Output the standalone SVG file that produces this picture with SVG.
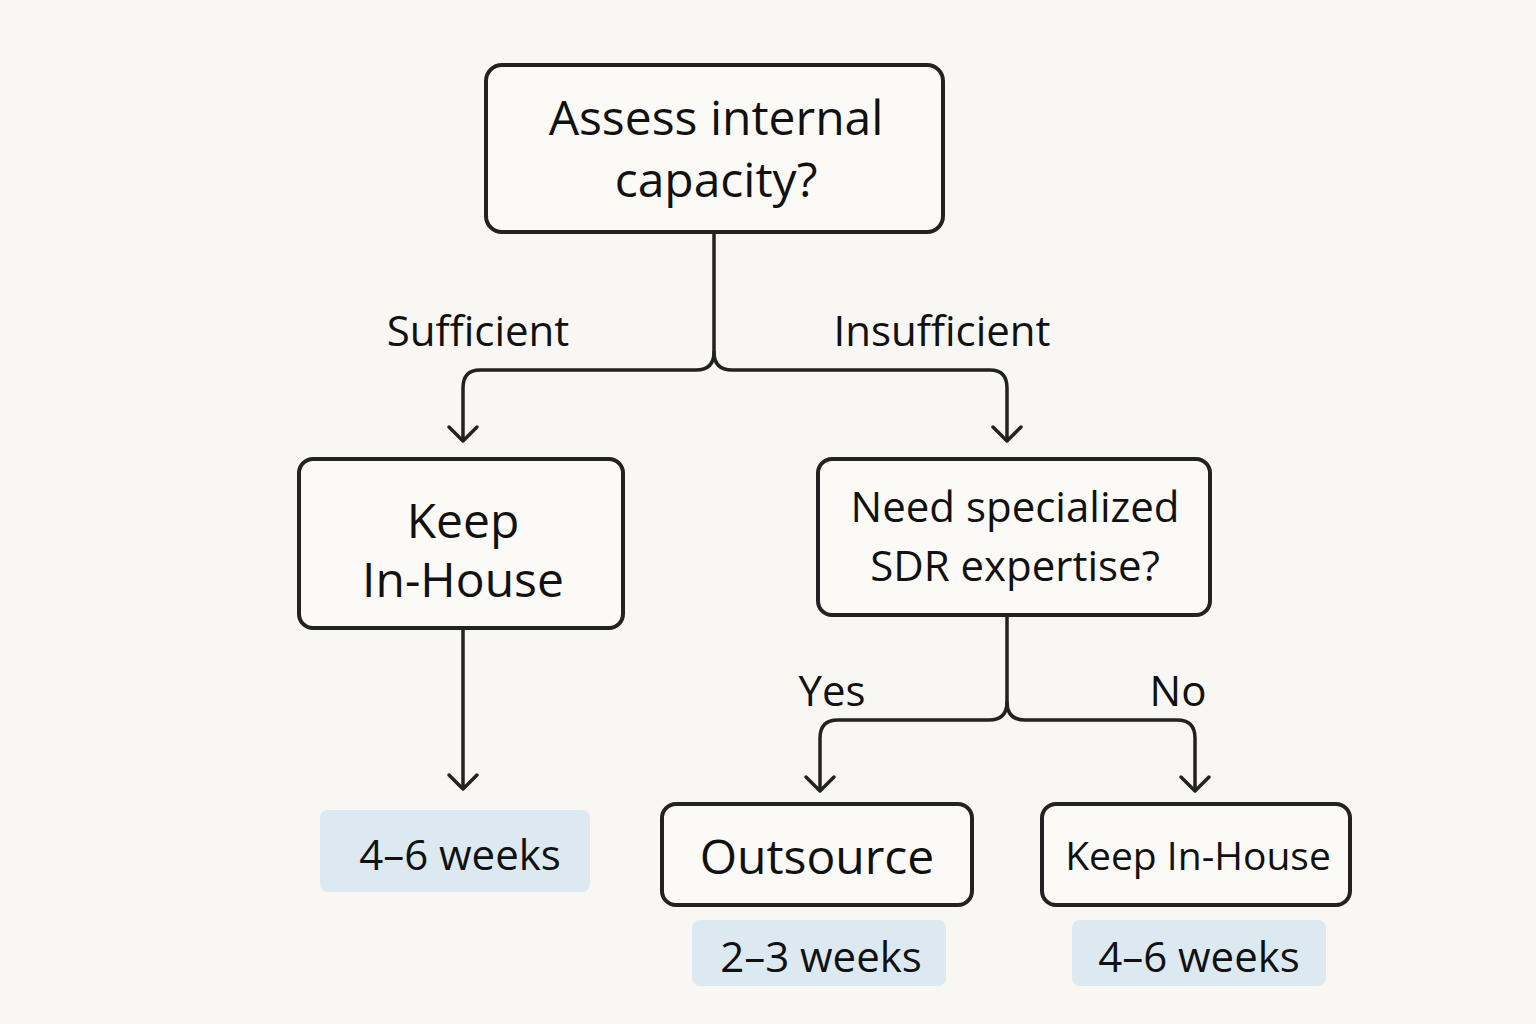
<svg xmlns="http://www.w3.org/2000/svg" width="1536" height="1024" viewBox="0 0 1536 1024">
<defs>
<style>
.box{fill:#fbfaf7;stroke:#222;stroke-width:4}
.tag{fill:#dce9f1}
.ln{fill:none;stroke:#222;stroke-width:3.5;stroke-linecap:round;stroke-linejoin:round}
text{font-family:"Open Sans","DejaVu Sans",sans-serif;fill:#111;text-anchor:middle}
.big{font-size:48px}
.mid{font-size:42px}
</style>
<path id="chev" d="M-14,-14 L0,0 L14,-14" fill="none" stroke="#222" stroke-width="3.5" stroke-linecap="round" stroke-linejoin="round"/>
</defs>
<rect width="1536" height="1024" fill="#f8f7f3"/>
<g id="connectors">
<path class="ln" d="M714,233 V352 Q714,370 696,370 H480 Q463,370 463,388 V440"/>
<path class="ln" d="M714,352 Q714,370 732,370 H990 Q1007,370 1007,388 V440"/>
<path class="ln" d="M463,628 V788"/>
<path class="ln" d="M1007,615 V702 Q1007,720 989,720 H838 Q820,720 820,738 V790"/>
<path class="ln" d="M1007,702 Q1007,720 1025,720 H1177 Q1195,720 1195,738 V790"/>
<use href="#chev" x="463" y="441"/>
<use href="#chev" x="1007" y="441"/>
<use href="#chev" x="463" y="789"/>
<use href="#chev" x="820" y="791"/>
<use href="#chev" x="1195" y="791"/>
<text class="mid" x="478" y="346">Sufficient</text>
<text class="mid" x="942" y="346">Insufficient</text>
<text class="mid" x="832" y="706">Yes</text>
<text class="mid" x="1178" y="706">No</text>
</g>
<g id="assess">
<rect class="box" x="486" y="65" width="457" height="167" rx="16"/>
<text class="big" x="716" y="135">Assess internal</text>
<text class="big" x="716" y="197">capacity?</text>
</g>
<g id="keep1">
<rect class="box" x="299" y="459" width="324" height="169" rx="14"/>
<text class="big" x="463" y="538">Keep</text>
<text class="big" x="463" y="597">In-House</text>
</g>
<g id="weeks1">
<rect class="tag" x="320" y="810" width="270" height="82" rx="8"/>
<text class="mid" x="460" y="870">4–6 weeks</text>
</g>
<g id="need">
<rect class="box" x="818" y="459" width="392" height="156" rx="14"/>
<text class="mid" x="1015" y="522">Need specialized</text>
<text class="mid" x="1015" y="581">SDR expertise?</text>
</g>
<g id="outsource">
<rect class="box" x="662" y="804" width="310" height="101" rx="14"/>
<text class="big" x="817" y="874">Outsource</text>
</g>
<g id="keep2">
<rect class="box" x="1042" y="804" width="308" height="101" rx="14"/>
<text class="mid" x="1198" y="870" font-size="39" style="font-size:39px">Keep In-House</text>
</g>
<g id="weeks2">
<rect class="tag" x="692" y="920" width="254" height="66" rx="8"/>
<text class="mid" x="821" y="972">2–3 weeks</text>
</g>
<g id="weeks3">
<rect class="tag" x="1072" y="920" width="254" height="66" rx="8"/>
<text class="mid" x="1199" y="972">4–6 weeks</text>
</g>
</svg>
